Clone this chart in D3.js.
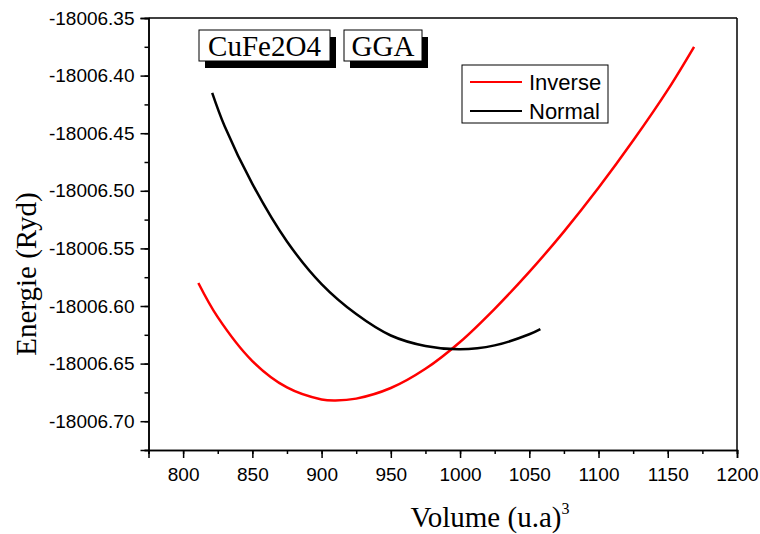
<!DOCTYPE html>
<html><head><meta charset="utf-8">
<script src="https://cdn.jsdelivr.net/npm/d3@7"></script>
<style>body{margin:0;background:#fff}svg{display:block}</style>
</head><body>
<svg id="c" width="760" height="534"></svg>
<script>
// Data
const inverseV = [811, 825, 850, 875, 900, 910, 925, 950, 975, 1000, 1025, 1050, 1075, 1100, 1125, 1150, 1169];
const inverseE = [-18006.580, -18006.6097, -18006.6478, -18006.6707, -18006.6811, -18006.682, -18006.6804, -18006.6712, -18006.6545, -18006.6312, -18006.6024, -18006.5704, -18006.5354, -18006.4974, -18006.4564, -18006.4124, -18006.375];
const normalV = [821, 830, 850, 875, 900, 925, 950, 975, 1000, 1025, 1050, 1058];
const normalE = [-18006.415, -18006.444, -18006.494, -18006.544, -18006.581, -18006.607, -18006.6256, -18006.6347, -18006.6376, -18006.6342, -18006.6245, -18006.620];
const xTicks = [800, 850, 900, 950, 1000, 1050, 1100, 1150, 1200];
const yTicks = [-18006.35, -18006.40, -18006.45, -18006.50, -18006.55, -18006.60, -18006.65, -18006.70];
const seriesNames = ["Inverse", "Normal"];
const seriesColors = ["#ff0000", "#000000"];
const boxLabels = ["CuFe2O4", "GGA"];

const svg = d3.select("#c");
const L = 148.5, R = 737, T = 18, B = 450;
const x = d3.scaleLinear().domain([775, 1200]).range([L, R]);
const y = d3.scaleLinear().domain([-18006.725, -18006.35]).range([B, T]);
const sans = "Liberation Sans, Arial, sans-serif";
const serif = "Liberation Serif, Times New Roman, serif";

// frame (top/right)
svg.append("line").attr("x1", L).attr("x2", R).attr("y1", T).attr("y2", T).attr("stroke", "#000").attr("stroke-width", 1.5);
svg.append("line").attr("x1", R).attr("x2", R).attr("y1", T).attr("y2", B).attr("stroke", "#000").attr("stroke-width", 1.5);

// X axis
const xMinor = d3.range(775, 1201, 25);
const xAx = svg.append("g").attr("transform", `translate(0,${B})`);
xAx.call(d3.axisBottom(x).tickValues(xMinor).tickSize(4).tickFormat(""));
xAx.selectAll(".tick line").attr("stroke-width", 1.5);
const xMaj = svg.append("g").attr("transform", `translate(0,${B})`)
  .call(d3.axisBottom(x).tickValues(xTicks).tickSize(8).tickPadding(10).tickFormat(d3.format("d")));
xMaj.selectAll(".tick line").attr("stroke-width", 1.5);
xMaj.selectAll("text").attr("font-family", sans).attr("font-size", 19).attr("fill", "#000");

// Y axis
const yMinor = d3.range(0, 16).map(i => -18006.725 + i * 0.025);
const yAx = svg.append("g").attr("transform", `translate(${L},0)`);
yAx.call(d3.axisLeft(y).tickValues(yMinor).tickSize(4).tickFormat(""));
yAx.selectAll(".tick line").attr("stroke-width", 1.5);
const f2 = d3.format(".2f");
const yMaj = svg.append("g").attr("transform", `translate(${L},0)`)
  .call(d3.axisLeft(y).tickValues(yTicks).tickSize(8).tickPadding(6).tickFormat(d => f2(d).replace("\u2212", "-")));
yMaj.selectAll(".tick line").attr("stroke-width", 1.5);
yMaj.selectAll("text").attr("font-family", sans).attr("font-size", 19).attr("fill", "#000");
svg.selectAll(".domain").attr("stroke-width", 1.5);

// curves
const line = d3.line().x(d => x(d[0])).y(d => y(d[1])).curve(d3.curveCatmullRom.alpha(0.5));
const series = [d3.zip(inverseV, inverseE), d3.zip(normalV, normalE)];
series.forEach((s, i) => {
  svg.append("path").datum(s).attr("d", line).attr("fill", "none")
    .attr("stroke", seriesColors[i]).attr("stroke-width", 2.5);
});

// axis titles
svg.append("text").attr("transform", "translate(36,274) rotate(-90)").attr("text-anchor", "middle")
  .attr("font-family", serif).attr("font-size", 29).text("Energie (Ryd)");
const xt = svg.append("text").attr("x", 490).attr("y", 527).attr("text-anchor", "middle")
  .attr("font-family", serif).attr("font-size", 29);
xt.append("tspan").text("Volume (u.a)");
xt.append("tspan").attr("font-size", 16).attr("dy", -13).text("3");

// label boxes
const boxes = [{x: 199, w: 131}, {x: 344, w: 78}];
boxLabels.forEach((t, i) => {
  const b = boxes[i];
  svg.append("rect").attr("x", b.x + 6).attr("y", 37).attr("width", b.w).attr("height", 31).attr("fill", "#000");
  svg.append("rect").attr("x", b.x).attr("y", 30).attr("width", b.w).attr("height", 31).attr("fill", "#fff").attr("stroke", "#000").attr("stroke-width", 1);
  svg.append("text").attr("x", b.x + b.w / 2).attr("y", 56).attr("text-anchor", "middle")
    .attr("font-family", serif).attr("font-size", 29).text(t);
});

// legend
svg.append("rect").attr("x", 462).attr("y", 65).attr("width", 146).attr("height", 58).attr("fill", "#fff").attr("stroke", "#000").attr("stroke-width", 1);
seriesNames.forEach((n, i) => {
  const yy = 82 + i * 29;
  svg.append("line").attr("x1", 470).attr("x2", 522).attr("y1", yy).attr("y2", yy).attr("stroke", seriesColors[i]).attr("stroke-width", 2);
  svg.append("text").attr("x", 529).attr("y", yy + 8).attr("font-family", sans).attr("font-size", 22).text(n);
});
</script>
</body></html>
